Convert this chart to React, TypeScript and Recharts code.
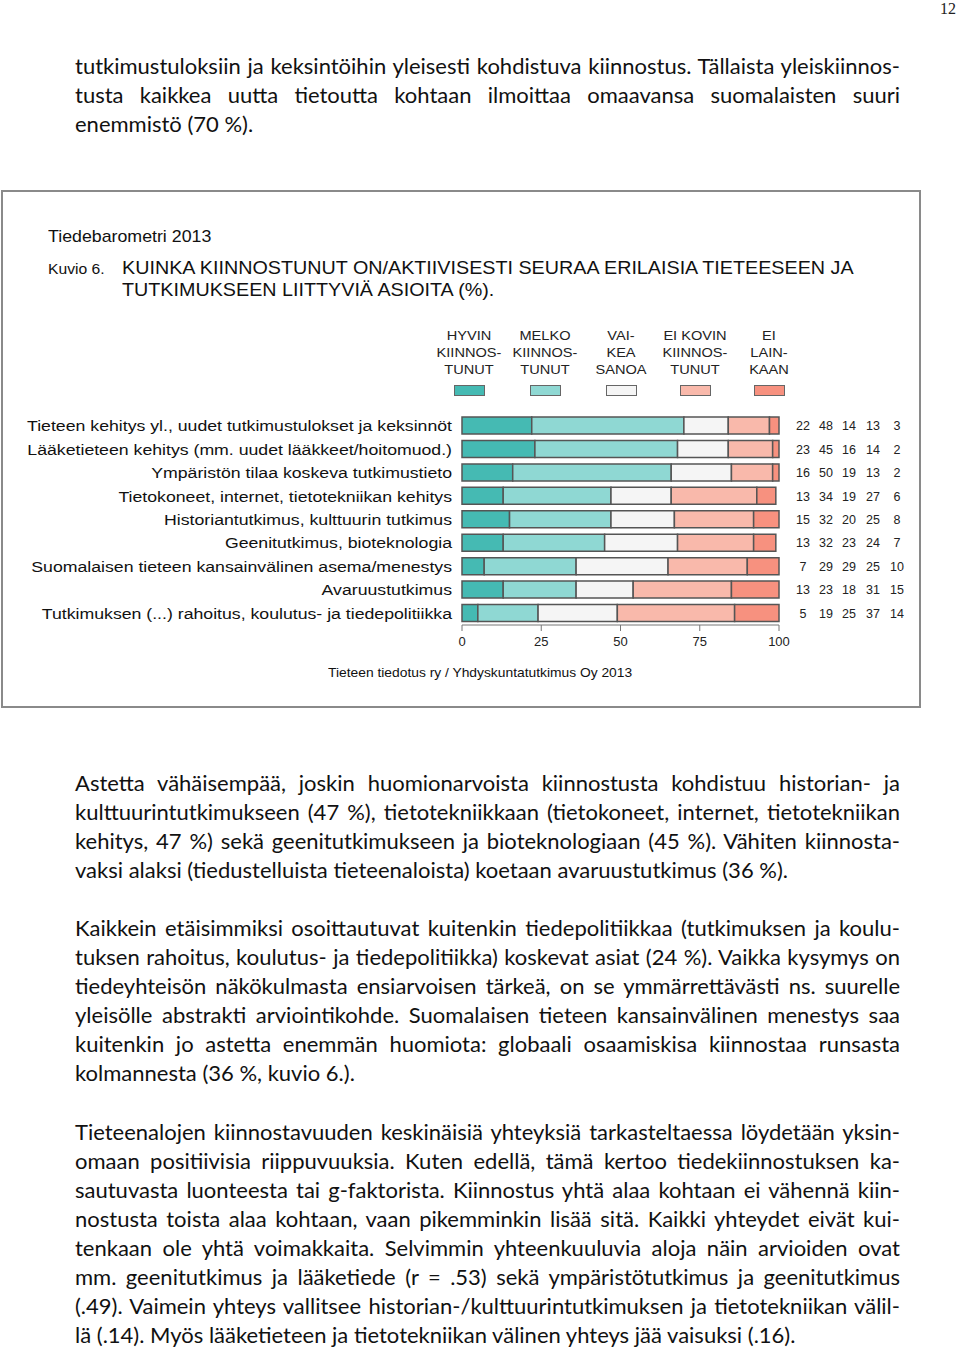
import React from "react";
import { BarChart, Bar, XAxis, YAxis } from "recharts";

// kategoriat ja vastausjakaumat (%)
const categories = [
  "Tieteen kehitys yl., uudet tutkimustulokset ja keksinnöt",
  "Lääketieteen kehitys (mm. uudet lääkkeet/hoitomuod.)",
  "Ympäristön tilaa koskeva tutkimustieto",
  "Tietokoneet, internet, tietotekniikan kehitys",
  "Historiantutkimus, kulttuurin tutkimus",
  "Geenitutkimus, bioteknologia",
  "Suomalaisen tieteen kansainvälinen asema/menestys",
  "Avaruustutkimus",
  "Tutkimuksen (...) rahoitus, koulutus- ja tiedepolitiikka",
];
const hyvin = [22, 23, 16, 13, 15, 13, 7, 13, 5];
const melko = [48, 45, 50, 34, 32, 32, 29, 23, 19];
const vaikea = [14, 16, 19, 19, 20, 23, 29, 18, 25];
const eiKovin = [13, 14, 13, 27, 25, 24, 25, 31, 37];
const eiLainkaan = [3, 2, 2, 6, 8, 7, 10, 15, 14];

const seriesKeys = ["hyvin", "melko", "vaikea", "eiKovin", "eiLainkaan"];
const seriesLabels = [
  ["HYVIN", "KIINNOS-", "TUNUT"],
  ["MELKO", "KIINNOS-", "TUNUT"],
  ["VAI-", "KEA", "SANOA"],
  ["EI KOVIN", "KIINNOS-", "TUNUT"],
  ["EI", "LAIN-", "KAAN"],
];
const colors = ["#45bab3", "#8fd8d3", "#f5f5f5", "#f9b9ab", "#f7917f"];
const xTicks = [0, 25, 50, 75, 100];

const data = categories.map((name, i) => ({
  name,
  hyvin: hyvin[i],
  melko: melko[i],
  vaikea: vaikea[i],
  eiKovin: eiKovin[i],
  eiLainkaan: eiLainkaan[i],
}));

const para1 = [
  "tutkimustuloksiin ja keksintöihin yleisesti kohdistuva kiinnostus. Tällaista yleiskiinnos-",
  "tusta kaikkea uutta tietoutta kohtaan ilmoittaa omaavansa suomalaisten suuri",
  "enemmistö (70 %).",
];
const para2 = [
  "Astetta vähäisempää, joskin huomionarvoista kiinnostusta kohdistuu historian- ja",
  "kulttuurintutkimukseen (47 %), tietotekniikkaan (tietokoneet, internet, tietotekniikan",
  "kehitys, 47 %) sekä geenitutkimukseen ja bioteknologiaan (45 %). Vähiten kiinnosta-",
  "vaksi alaksi (tiedustelluista tieteenaloista) koetaan avaruustutkimus (36 %).",
];
const para3 = [
  "Kaikkein etäisimmiksi osoittautuvat kuitenkin tiedepolitiikkaa (tutkimuksen ja koulu-",
  "tuksen rahoitus, koulutus- ja tiedepolitiikka) koskevat asiat (24 %). Vaikka kysymys on",
  "tiedeyhteisön näkökulmasta ensiarvoisen tärkeä, on se ymmärrettävästi ns. suurelle",
  "yleisölle abstrakti arviointikohde. Suomalaisen tieteen kansainvälinen menestys saa",
  "kuitenkin jo astetta enemmän huomiota: globaali osaamiskisa kiinnostaa runsasta",
  "kolmannesta (36 %, kuvio 6.).",
];
const para4 = [
  "Tieteenalojen kiinnostavuuden keskinäisiä yhteyksiä tarkasteltaessa löydetään yksin-",
  "omaan positiivisia riippuvuuksia. Kuten edellä, tämä kertoo tiedekiinnostuksen ka-",
  "sautuvasta luonteesta tai g-faktorista. Kiinnostus yhtä alaa kohtaan ei vähennä kiin-",
  "nostusta toista alaa kohtaan, vaan pikemminkin lisää sitä. Kaikki yhteydet eivät kui-",
  "tenkaan ole yhtä voimakkaita. Selvimmin yhteenkuuluvia aloja näin arvioiden ovat",
  "mm. geenitutkimus ja lääketiede (r = .53) sekä ympäristötutkimus ja geenitutkimus",
  "(.49). Vaimein yhteys vallitsee historian-/kulttuurintutkimuksen ja tietotekniikan välil-",
  "lä (.14). Myös lääketieteen ja tietotekniikan välinen yhteys jää vaisuksi (.16).",
];

const bodyFont = "Lato, 'Roboto', sans-serif";
const chartFont = "'Liberation Sans', Arial, sans-serif";

function Paragraph({ lines, top }: { lines: string[]; top: number }) {
  return (
    <div style={{ position: "absolute", left: 75, top, width: 825 }}>
      {lines.map((l, i) => (
        <div
          key={i}
          style={{
            fontFamily: bodyFont,
            fontSize: 22,
            lineHeight: "29px",
            height: 29,
            color: "#111",
            textAlign: "justify",
            textAlignLast: i < lines.length - 1 ? "justify" : "left",
            whiteSpace: "nowrap",
          }}
        >
          {l}
        </div>
      ))}
    </div>
  );
}

// teksti hieman leveämmäksi kuten alkuperäisessä kuvassa
function Wide({
  left,
  top,
  size,
  sx,
  lh,
  children,
}: {
  left: number;
  top: number;
  size: number;
  sx: number;
  lh?: number;
  children: React.ReactNode;
}) {
  return (
    <div
      style={{
        position: "absolute",
        left,
        top,
        fontFamily: chartFont,
        fontSize: size,
        lineHeight: lh ? `${lh}px` : undefined,
        color: "#111",
        whiteSpace: "nowrap",
        transform: `scaleX(${sx})`,
        transformOrigin: "0 0",
      }}
    >
      {children}
    </div>
  );
}

const legendCenters = [469, 545, 621, 695, 769];

function CategoryTick(props: any) {
  const { x, y, payload } = props;
  return (
    <g transform={`translate(${x},${y})`}>
      <text
        transform="scale(1.18,1)"
        textAnchor="end"
        dy={5.5}
        fontSize={15}
        fontFamily={chartFont}
        fill="#111"
      >
        {payload.value}
      </text>
    </g>
  );
}

function ValuesTick(props: any) {
  const { x, y, payload } = props;
  const i = payload.index;
  const vals = [hyvin[i], melko[i], vaikea[i], eiKovin[i], eiLainkaan[i]];
  const offs = [24, 47, 70, 94, 118];
  return (
    <g>
      {vals.map((v, k) => (
        <text
          key={k}
          x={x + offs[k]}
          y={y}
          dy={4.5}
          textAnchor="middle"
          fontSize={12.5}
          fontFamily={chartFont}
          fill="#222"
        >
          {v}
        </text>
      ))}
    </g>
  );
}

export default function App() {
  return (
    <div
      style={{
        position: "absolute",
        left: 0,
        top: 0,
        width: 960,
        height: 1352,
        background: "#fff",
        overflow: "hidden",
      }}
    >
      <div
        style={{
          position: "absolute",
          left: 940,
          top: 0,
          fontFamily: "'Liberation Serif', serif",
          fontSize: 16,
          lineHeight: "18px",
          color: "#222",
        }}
      >
        12
      </div>

      <Paragraph lines={para1} top={51} />

      <div
        style={{
          position: "absolute",
          left: 1,
          top: 190,
          width: 916,
          height: 514,
          border: "2px solid #8a8a8a",
        }}
      />

      <Wide left={48} top={227} size={17} sx={1.045}>
        Tiedebarometri 2013
      </Wide>
      <Wide left={48} top={261} size={14} sx={1.12}>
        Kuvio 6.
      </Wide>
      <Wide left={122} top={257} size={18} sx={1.096} lh={22}>
        KUINKA KIINNOSTUNUT ON/AKTIIVISESTI SEURAA ERILAISIA TIETEESEEN JA
        <br />
        TUTKIMUKSEEN LIITTYVIÄ ASIOITA (%).
      </Wide>

      {seriesLabels.map((lines, i) => (
        <div key={i}>
          <div
            style={{
              position: "absolute",
              left: legendCenters[i] - 40,
              top: 327,
              width: 80,
              textAlign: "center",
              fontFamily: chartFont,
              fontSize: 13.5,
              lineHeight: "17px",
              color: "#222",
              transform: "scaleX(1.08)",
            }}
          >
            {lines.map((t, k) => (
              <div key={k}>{t}</div>
            ))}
          </div>
          <div
            style={{
              position: "absolute",
              left: legendCenters[i] - 15.5,
              top: 385,
              width: 29,
              height: 9,
              background: colors[i],
              border: "1px solid #666",
            }}
          />
        </div>
      ))}

      <div style={{ position: "absolute", left: 20, top: 400 }}>
        <BarChart
          width={900}
          height={260}
          data={data}
          layout="vertical"
          margin={{ top: 14, right: 0, bottom: 5, left: 0 }}
          barSize={17}
        >
          <XAxis
            type="number"
            domain={[0, 100]}
            ticks={xTicks}
            interval={0}
            stroke="#777"
            tickSize={6}
            tickMargin={6}
            height={30}
            tick={{ fill: "#222", fontSize: 13, fontFamily: chartFont }}
          />
          <YAxis
            yAxisId="left"
            type="category"
            dataKey="name"
            width={442}
            axisLine={false}
            tickLine={false}
            tickSize={0}
            tickMargin={10}
            interval={0}
            tick={<CategoryTick />}
          />
          <YAxis
            yAxisId="right"
            orientation="right"
            type="category"
            dataKey="name"
            width={141}
            axisLine={false}
            tickLine={false}
            tickSize={0}
            tickMargin={0}
            interval={0}
            tick={<ValuesTick />}
          />
          {seriesKeys.map((k, i) => (
            <Bar
              key={k}
              yAxisId="left"
              dataKey={k}
              stackId="a"
              fill={colors[i]}
              stroke="#555"
              strokeWidth={1.5}
              isAnimationActive={false}
            />
          ))}
        </BarChart>
      </div>

      <Wide left={328} top={665} size={13} sx={1.063}>
        Tieteen tiedotus ry / Yhdyskuntatutkimus Oy 2013
      </Wide>

      <Paragraph lines={para2} top={768} />
      <Paragraph lines={para3} top={913} />
      <Paragraph lines={para4} top={1117} />
    </div>
  );
}
